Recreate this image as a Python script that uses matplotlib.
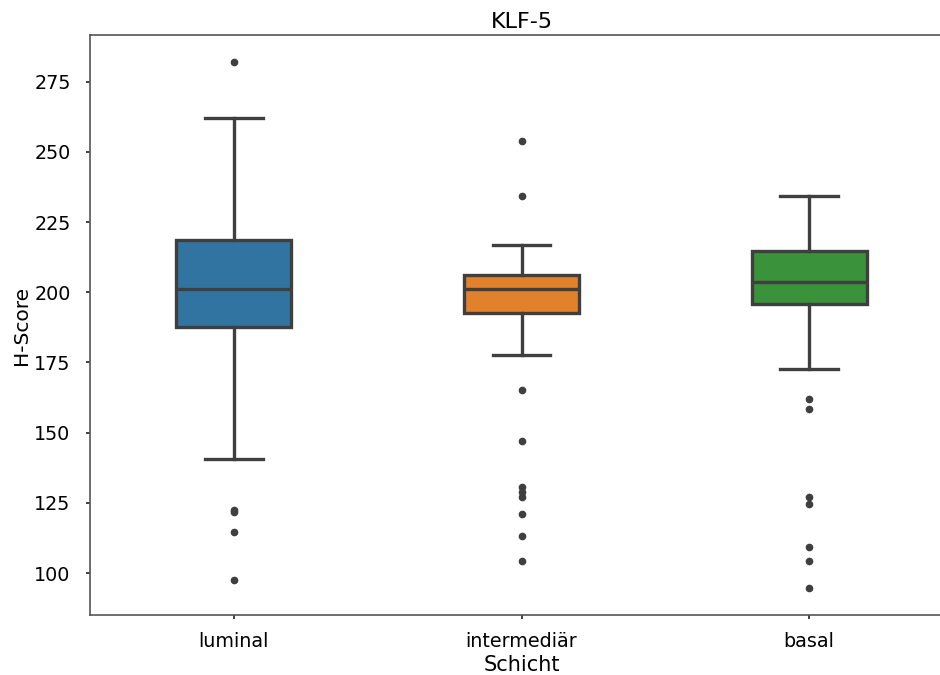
import matplotlib
matplotlib.use("Agg")
import matplotlib.pyplot as plt

categories = ["luminal", "intermediär", "basal"]
q1 = [187.5, 192.5, 195.7]
median = [201.2, 201.1, 203.6]
q3 = [218.7, 206.2, 214.8]
whis_lo = [140.7, 177.8, 172.7]
whis_hi = [262.2, 217.0, 234.2]
fliers = [
    [282.0, 122.5, 121.8, 114.7, 97.7],
    [254.0, 234.2, 165.2, 147.2, 130.8, 129.0, 127.0, 120.9, 113.1, 104.4],
    [161.9, 158.3, 127.0, 124.7, 109.3, 104.4, 94.6],
]
colors = ["#3274a1", "#e1812c", "#3a923a"]

plt.rcParams['font.family'] = ['DejaVu Sans']
fig = plt.figure(figsize=(9.4, 6.75), dpi=100)
ax = fig.add_axes([90/940, 60/675, 863/940, 580/675])

stats = []
for i, c in enumerate(categories):
    stats.append(dict(label=c, q1=q1[i], med=median[i], q3=q3[i],
                      whislo=whis_lo[i], whishi=whis_hi[i], fliers=fliers[i]))

lc = "#3f3f3f"
lw = 2.4
bp = ax.bxp(stats, positions=range(len(categories)), widths=0.4,
            patch_artist=True, showfliers=True,
            boxprops=dict(edgecolor=lc, linewidth=lw),
            medianprops=dict(color=lc, linewidth=lw),
            whiskerprops=dict(color=lc, linewidth=lw),
            capprops=dict(color=lc, linewidth=lw),
            flierprops=dict(marker='o', markerfacecolor=lc, markeredgecolor=lc,
                            markersize=4.5, linestyle='none'))
for patch, col in zip(bp['boxes'], colors):
    patch.set_facecolor(col)

ax.set_xlim(-0.5, 2.5)
ax.set_ylim(85.1, 291.6)
ax.set_yticks([100, 125, 150, 175, 200, 225, 250, 275])
ax.set_xticks(range(len(categories)))
ax.set_xticklabels(categories)
ax.tick_params(labelsize=13.8, length=3, width=1.3, color='#333333')
ax.tick_params(axis='y', pad=11)
ax.tick_params(axis='x', pad=9)
for s in ax.spines.values():
    s.set_color('#555555')
    s.set_linewidth(1.2)
ax.set_xlabel("Schicht", fontsize=15, labelpad=3)
ax.set_ylabel("H-Score", fontsize=14.5, labelpad=2)
ax.set_title("KLF-5", fontsize=16, x=(522-90)/863, pad=5)

fig.savefig("out.png", dpi=100)
